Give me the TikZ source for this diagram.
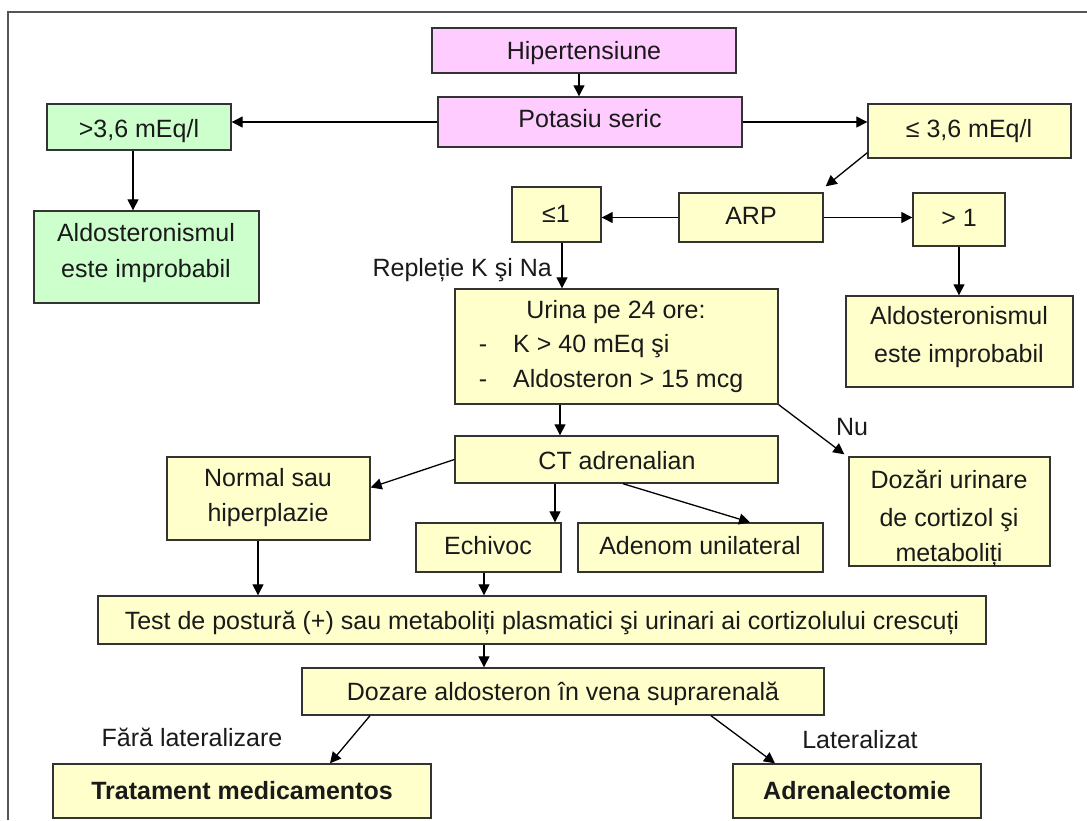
\documentclass[tikz,border=0pt]{standalone}
\usepackage{fontspec}
\setmainfont{Liberation Sans}
\usetikzlibrary{arrows.meta,calc}
\definecolor{pinkf}{HTML}{FFCCFF}
\definecolor{greenf}{HTML}{CCFFCC}
\definecolor{yellowf}{HTML}{FFFFCC}
\definecolor{edgec}{HTML}{333333}
\definecolor{txtc}{HTML}{1A1A1A}
\definecolor{framec}{HTML}{555555}
\newcommand{\mybox}[6]{%
  \node[bx,fill=#6,minimum width={#4pt-#2pt},minimum height={#5pt-#3pt}] (#1) at ({(#2+#4)/2},{(#3+#5)/2}) {};}
\tikzset{
  bx/.style={draw=edgec,line width=1.4pt,rectangle,inner sep=0pt},
  tx/.style={inner sep=0pt,anchor=base,text=txtc,font=\fontsize{25}{30}\selectfont},
  tb/.style={tx,font=\fontsize{25}{30}\selectfont\bfseries},
  arr/.style={draw=black,line width=1.3pt,-{Triangle[length=11pt,width=11pt]}}
}
\begin{document}
\begin{tikzpicture}[x=1pt,y=-1pt]
\useasboundingbox (0,0) rectangle (1087,820);
\fill[white] (0,0) rectangle (1087,820);
\draw[framec,line width=2pt] (8,820) -- (8,12) -- (1087,12);

% boxes
\mybox{hip}{432}{28}{736}{73}{pinkf}
\mybox{pot}{438}{97}{742}{147}{pinkf}
\mybox{gtA}{47}{104}{231}{150}{greenf}
\mybox{aldA}{34}{211}{259}{303}{greenf}
\mybox{leA}{868}{104}{1071}{158}{yellowf}
\mybox{leB}{512}{187}{601}{242}{yellowf}
\mybox{arp}{679}{193}{823}{242}{yellowf}
\mybox{gtB}{913}{193}{1005}{246}{yellowf}
\mybox{aldB}{846}{296}{1073}{387}{yellowf}
\mybox{urina}{455}{289}{778}{404}{yellowf}
\mybox{ct}{455}{436}{778}{483}{yellowf}
\mybox{doz}{849}{457}{1050}{566}{yellowf}
\mybox{normal}{167}{457}{370}{540}{yellowf}
\mybox{echi}{416}{523}{561}{572}{yellowf}
\mybox{aden}{578}{523}{823}{572}{yellowf}
\mybox{test}{98}{596}{986}{644}{yellowf}
\mybox{dozare}{302}{668}{824}{715}{yellowf}
\mybox{trat}{53}{764}{431}{818}{yellowf}
\mybox{adr}{733}{764}{981}{818}{yellowf}

% texts
\node[tx] (t-hip) at (584,59) {Hipertensiune};
\node[tx] (t-pot) at (590,127) {Potasiu seric};
\node[tx] (t-gtA) at (139,137) {>3,6 mEq/l};
\node[tx] (t-aldA1) at (146,241) {Aldosteronismul};
\node[tx] (t-aldA2) at (146,277) {este improbabil};
\node[tx] (t-leA) at (969,137) {≤ 3,6 mEq/l};
\node[tx] (t-leB) at (556,222) {≤1};
\node[tx] (t-arp) at (751,224) {ARP};
\node[tx] (t-gtB) at (959,226) {> 1};
\node[tx] (t-aldB1) at (959,324) {Aldosteronismul};
\node[tx] (t-aldB2) at (959,362) {este improbabil};
\node[tx] (t-urina) at (616,318) {Urina pe 24 ore:};
\node[tx] (t-d1) at (483,352) {-};
\node[tx] (t-d2) at (483,387) {-};
\node[tx,anchor=base west] (t-k) at (513,352) {K > 40 mEq şi};
\node[tx,anchor=base west] (t-al) at (513,387) {Aldosteron > 15 mcg};
\node[tx] (t-ct) at (617,469) {CT adrenalian};
\node[tx] (t-doz1) at (949,488) {Dozări urinare};
\node[tx] (t-doz2) at (949,526) {de cortizol şi};
\node[tx] (t-doz3) at (949,561) {metaboliți};
\node[tx] (t-norm1) at (268,486) {Normal sau};
\node[tx] (t-norm2) at (268,521) {hiperplazie};
\node[tx] (t-echi) at (488,554) {Echivoc};
\node[tx] (t-aden) at (700,554) {Adenom unilateral};
\node[tx] (t-test) at (542,629) {Test de postură (+) sau metaboliți plasmatici şi urinari ai cortizolului crescuți};
\node[tx] (t-dozare) at (563,700) {Dozare aldosteron în vena suprarenală};
\node[tb] (t-trat) at (242,799) {Tratament medicamentos};
\node[tb] (t-adr) at (857,799) {Adrenalectomie};

% labels
\node[tx,anchor=base east] (l-repl) at (552,276) {Repleție K şi Na};
\node[tx] (l-nu) at (852,435) {Nu};
\node[tx] (l-fara) at (192,746) {Fără lateralizare};
\node[tx] (l-lat) at (860,748) {Lateralizat};

% helper coordinates
\coordinate (xA) at (579,0);
\coordinate (xB) at (133,0);
\coordinate (xC) at (562,0);
\coordinate (xD) at (560,0);
\coordinate (xE) at (555,0);
\coordinate (xF1) at (623,0);
\coordinate (xF2) at (750,0);
\coordinate (xG) at (258,0);
\coordinate (xH) at (484,0);
\coordinate (xI1) at (370,0);
\coordinate (xI2) at (330,0);
\coordinate (xJ1) at (711,0);
\coordinate (xJ2) at (775,0);

% connectors
\draw[arr] (hip.south -| xA) -- (pot.north -| xA);
\draw[arr] (pot.west) -- (pot.west -| gtA.east);
\draw[arr] (pot.east) -- (pot.east -| leA.west);
\draw[arr] (gtA.south -| xB) -- (aldA.north -| xB);
\draw[arr] ([yshift=6pt]leA.south west) -- ([shift={(2pt,6pt)}]arp.north east);
\draw[arr] (arp.west) -- (arp.west -| leB.east);
\draw[arr] (arp.east) -- (arp.east -| gtB.west);
\draw[arr] (gtB.south) -- (gtB.south |- aldB.north);
\draw[arr] (leB.south -| xC) -- (urina.north -| xC);
\draw[arr] (urina.south -| xD) -- (ct.north -| xD);
\draw[arr] (urina.south east) -- ([shift={(-4pt,2pt)}]doz.north west);
\draw[arr] (ct.west) -- ([yshift=11pt]normal.east);
\draw[arr] (ct.south -| xE) -- (echi.north -| xE);
\draw[arr] (ct.south -| xF1) -- (aden.north -| xF2);
\draw[arr] (normal.south -| xG) -- (test.north -| xG);
\draw[arr] (echi.south -| xH) -- (test.north -| xH);
\draw[arr] (test.south -| xH) -- (dozare.north -| xH);
\draw[arr] (dozare.south -| xI1) -- (trat.north -| xI2);
\draw[arr] (dozare.south -| xJ1) -- (adr.north -| xJ2);
\end{tikzpicture}
\end{document}
